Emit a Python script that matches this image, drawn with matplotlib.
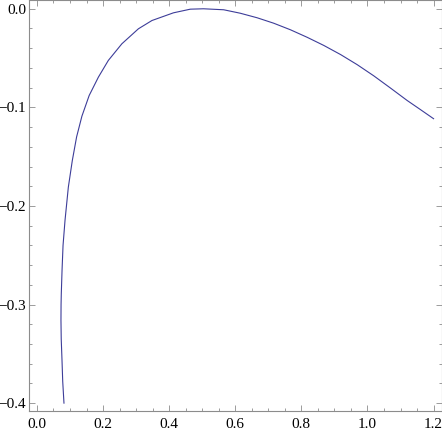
import matplotlib
matplotlib.use("Agg")
import matplotlib.pyplot as plt
from matplotlib.ticker import MultipleLocator

# values, from the bottom end of the curve up and then right
curve_x = [0.0818, 0.0780, 0.0758, 0.0735, 0.0727, 0.0730, 0.0737, 0.0760, 0.0790,
           0.0850, 0.0950, 0.1070, 0.1200, 0.1360, 0.1580, 0.1860, 0.2160, 0.2570,
           0.3070, 0.3480, 0.4130, 0.4640, 0.5040, 0.5650, 0.6150, 0.6660, 0.7160,
           0.7670, 0.8180, 0.8680, 0.9190, 0.9690, 1.0190, 1.0700, 1.1200, 1.1600, 1.2000]
curve_y = [-0.400, -0.378, -0.356, -0.335, -0.316, -0.300, -0.289, -0.265, -0.240,
           -0.2145, -0.181, -0.154, -0.130, -0.109, -0.088, -0.0693, -0.0524, -0.0355,
           -0.0203, -0.0119, -0.0041, -0.0004, 0.0, -0.0010, -0.0045, -0.0091, -0.0146,
           -0.0213, -0.0290, -0.0372, -0.0465, -0.0567, -0.0680, -0.0805, -0.0930, -0.1022,
           -0.1115]

x_ticks = [0.0, 0.2, 0.4, 0.6, 0.8, 1.0, 1.2]
y_ticks = [0.0, -0.1, -0.2, -0.3, -0.4]

plt.rcParams['font.family'] = ['Liberation Serif', 'DejaVu Serif']

fig = plt.figure(figsize=(4.42, 4.32), dpi=100)
ax = fig.add_axes([29 / 442, 21 / 432, 412.5 / 442, 410.5 / 432])

ax.plot(curve_x, curve_y, color="#3d3d99", linewidth=0.8)

ax.set_xlim(-0.024, 1.224)
ax.set_ylim(-0.408, 0.0084)

ax.set_xticks(x_ticks)
ax.set_yticks(y_ticks)
ax.set_xticklabels([f"{t:.1f}" for t in x_ticks])
ax.set_yticklabels([f"{t:.1f}".replace("-", "\u2212") for t in y_ticks])
ax.xaxis.set_minor_locator(MultipleLocator(0.05))
ax.yaxis.set_minor_locator(MultipleLocator(0.02))

frame_grey = "#8c8c8c"
for s in ax.spines.values():
    s.set_color(frame_grey)
    s.set_linewidth(0.8)
ax.tick_params(which="both", direction="in", top=True, right=True,
               color=frame_grey, width=0.6, labelsize=11)
ax.tick_params(which="major", length=4.5)
ax.tick_params(which="minor", length=2.5)
ax.tick_params(axis="x", pad=5)
ax.tick_params(axis="y", pad=2)

fig.savefig("out.png", dpi=100)
